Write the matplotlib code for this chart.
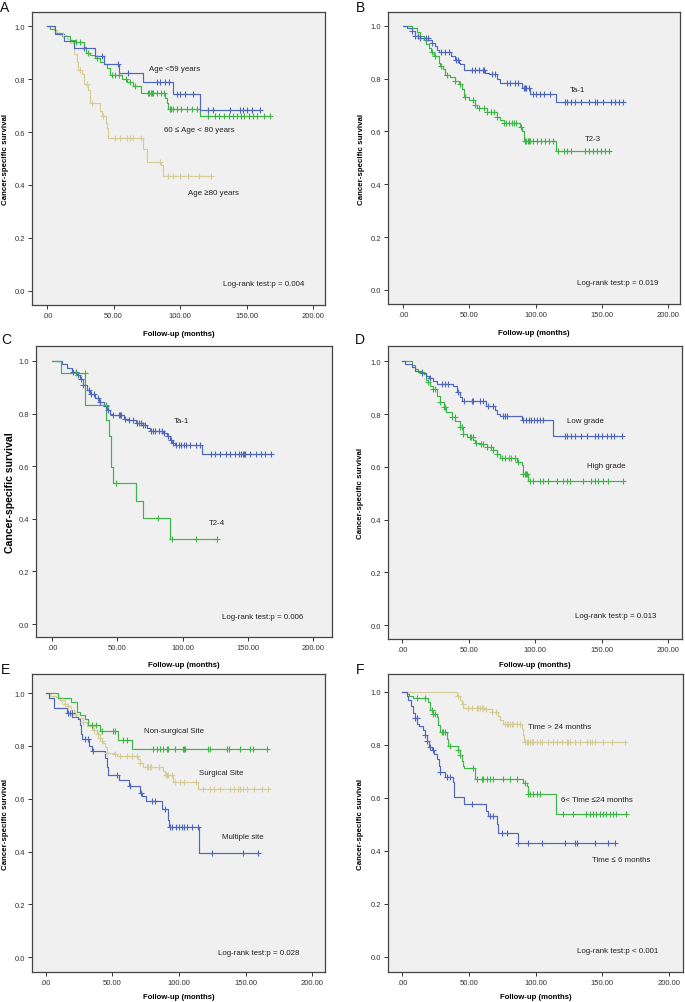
import numpy as np
import matplotlib
matplotlib.use("Agg")
import matplotlib.pyplot as plt

plt.rcParams['font.family'] = ['Liberation Sans', 'DejaVu Sans']

BLUE = '#4F68BC'
GREEN = '#3DB547'
TAN = '#D5CC97'

x_ticks = [0, 50, 100, 150, 200]
x_ticklabels = ['.00', '50.00', '100.00', '150.00', '200.00']
y_ticks = [0.0, 0.2, 0.4, 0.6, 0.8, 1.0]
y_ticklabels = ['0.0', '0.2', '0.4', '0.6', '0.8', '1.0']

# ---------------- Panel A ----------------
a1_t = [6, 12.5, 20, 36, 43, 54, 72, 95, 115]
a1_s = [0.97, 0.945, 0.916, 0.887, 0.857, 0.824, 0.790, 0.745, 0.684]
a1_c = [27.5, 41, 53, 61, 82.5, 85, 89, 92, 97.5, 100, 104, 110, 121, 125, 137.5, 145, 147.5, 150, 154, 160]
a2_t = [2.5, 6, 11, 17.5, 21, 27.5, 29, 32.5, 36, 40, 42.5, 45, 47.5, 56, 60, 65, 71, 89, 90, 91, 115]
a2_s = [0.99, 0.975, 0.962, 0.948, 0.94, 0.92, 0.90, 0.89, 0.88, 0.865, 0.855, 0.84, 0.815, 0.80, 0.79,
        0.772, 0.746, 0.73, 0.71, 0.686, 0.661]
a2_c = [22, 25, 31, 37.5, 49, 51, 54, 59.5, 62.5, 66, 76, 77, 78, 79, 80, 82.5, 86, 88, 92.5, 93.5, 94.5,
        97.5, 101, 105, 109, 112.5, 121, 126, 129, 133, 137, 140, 143, 145.5, 148, 152, 155, 158, 163, 167.5]
a3_t = [5, 7.5, 10, 15, 17.5, 20, 22.5, 23.5, 26, 27.5, 31, 32.5, 40, 41, 44, 45, 46, 72.5, 75, 86, 87]
a3_s = [0.985, 0.975, 0.966, 0.95, 0.935, 0.896, 0.865, 0.833, 0.82, 0.783, 0.76, 0.708, 0.68, 0.659,
        0.635, 0.615, 0.578, 0.535, 0.488, 0.475, 0.435]
a3_c = [12, 25, 30, 34, 42, 51, 55, 60, 62.5, 65, 71, 85, 91, 95, 100, 106, 114, 123]

# ---------------- Panel B ----------------
b1_t = [3, 7, 9, 13, 19, 22, 24, 25.5, 27, 36, 39, 42, 43, 46, 62, 64.5, 71, 73, 90, 96, 115]
b1_s = [0.99, 0.98, 0.962, 0.955, 0.945, 0.935, 0.925, 0.91, 0.899, 0.885, 0.87, 0.86, 0.855, 0.832,
        0.822, 0.817, 0.797, 0.784, 0.763, 0.743, 0.712]
b1_c = [7, 9, 11, 13, 17, 18.5, 22, 29, 31.5, 35, 40, 41.5, 52, 54, 57, 60, 61, 67, 69.5, 78.5, 81, 84.5,
        87, 91, 92, 93, 95, 98, 100, 103, 106, 111, 122, 124, 127, 130, 134, 140, 145, 146, 151, 157,
        160, 163, 166]
b2_t = [7, 10.5, 13, 15.5, 17.5, 19.5, 21, 23, 27, 28, 30.5, 32, 35.5, 39.5, 42, 44.5, 46, 49.5, 54,
        55.5, 63, 71, 73, 76, 88, 90, 91.5, 115.5]
b2_s = [0.99, 0.975, 0.96, 0.945, 0.93, 0.915, 0.90, 0.887, 0.86, 0.847, 0.835, 0.812, 0.805, 0.79, 0.78,
        0.76, 0.729, 0.72, 0.70, 0.687, 0.672, 0.655, 0.645, 0.631, 0.615, 0.60, 0.565, 0.527]
b2_c = [17, 22, 24.5, 28.5, 33.5, 39.5, 43, 47, 53, 54, 57, 61, 63.5, 66, 68.5, 71, 76, 78, 80, 82, 84,
        85, 89, 92, 93, 94, 95, 96, 98, 101, 104, 107, 110, 113, 117, 121, 124, 127, 137, 140, 143, 146,
        149, 152, 155]

# ---------------- Panel C ----------------
c1_t = [7.5, 11.5, 15, 19, 21.5, 24, 27, 29, 33, 36, 39.5, 42, 44.5, 46, 55, 58.5, 64, 70, 72.5, 75,
        85, 88, 90.5, 92, 94, 115]
c1_s = [0.99, 0.975, 0.96, 0.945, 0.93, 0.91, 0.89, 0.875, 0.86, 0.845, 0.83, 0.815, 0.80, 0.795, 0.78,
        0.775, 0.765, 0.755, 0.745, 0.734, 0.725, 0.715, 0.70, 0.69, 0.68, 0.645]
c1_c = [16, 18, 20, 22, 24, 28, 30, 32, 35, 37, 41, 43, 47, 51, 52, 53, 56, 59, 62, 65, 67, 68, 70, 71,
        76, 77, 79, 82, 84, 86, 89, 91, 93, 95, 97, 99, 101, 103, 106, 110, 113, 122, 125, 129, 133,
        136, 140, 143, 145, 146, 147, 148, 152, 156, 160, 163, 168]
c2_t = [7, 25.5, 41.5, 43.5, 45.3, 46.6, 64.5, 70, 90]
c2_s = [0.953, 0.833, 0.777, 0.714, 0.596, 0.536, 0.469, 0.402, 0.323]
c2_c = [18, 25, 41, 49, 81.5, 91.7, 110, 126.5]

# ---------------- Panel D ----------------
d1_t = [2, 7, 9.5, 14.5, 18, 20, 23, 26, 38, 41, 43, 44.5, 63, 70, 71.5, 73.5, 90, 113.5]
d1_s = [0.99, 0.98, 0.965, 0.955, 0.945, 0.935, 0.925, 0.915, 0.905, 0.885, 0.865, 0.848, 0.83, 0.815,
        0.80, 0.791, 0.779, 0.716]
d1_c = [14.5, 21, 29.5, 32, 34.6, 42, 46, 52, 53, 58.4, 60.4, 64.7, 68.4, 76, 77, 78.5, 91, 93, 95, 97,
        99, 101, 103.5, 106, 122, 124, 127, 130, 134, 139, 145, 147, 150, 154, 157, 159, 165]
d2_t = [7, 9.5, 12, 16, 18, 19.5, 21, 23, 26, 28.3, 31, 33, 37, 39.6, 43.4, 45.4, 48.4, 53.4, 54.6, 58.4,
        63.4, 68.4, 71, 73.4, 86, 89.7, 91, 94.7]
d2_s = [0.985, 0.97, 0.96, 0.95, 0.93, 0.92, 0.905, 0.895, 0.87, 0.845, 0.825, 0.807, 0.79, 0.775, 0.75,
        0.725, 0.714, 0.70, 0.69, 0.685, 0.675, 0.665, 0.65, 0.633, 0.62, 0.605, 0.571, 0.545]
d2_c = [14.5, 19.5, 23, 24.5, 28.5, 31, 32, 37, 39.5, 43.5, 44.5, 45.5, 50.5, 51.5, 53, 55.5, 59.5, 61,
        63.5, 67, 68.5, 71, 75, 77.5, 80, 82, 84.5, 87, 91, 92, 93, 94, 96, 98.5, 103.5, 106, 109.5, 116,
        121, 123.5, 126, 136, 142, 144.5, 147, 151, 155, 166]

# ---------------- Panel E ----------------
e1_t = [9, 19, 23.3, 25.8, 29.5, 32, 40.8, 54.5, 65]
e1_s = [0.98, 0.965, 0.93, 0.915, 0.90, 0.879, 0.856, 0.823, 0.787]
e1_c = [34.5, 38, 42, 50.8, 52, 58, 60.8, 80.8, 83.3, 85.8, 88.3, 90.8, 91.5, 97, 103, 103.5, 104.5,
        122, 123, 135.8, 137.8, 145.8, 153, 155.8, 165.8]
e2_t = [3, 8, 11, 14.5, 17, 19, 21, 23, 24.5, 28, 31, 35.8, 38.3, 40.8, 42, 43, 44.5, 45.8, 52, 53.3,
        69.5, 70.8, 72.8, 88.3, 89.5, 95.3, 114.5]
e2_s = [0.99, 0.985, 0.975, 0.96, 0.95, 0.935, 0.92, 0.91, 0.905, 0.89, 0.875, 0.86, 0.845, 0.829, 0.82,
        0.81, 0.795, 0.774, 0.77, 0.763, 0.75, 0.735, 0.721, 0.705, 0.691, 0.664, 0.637]
e2_c = [12, 14.5, 17, 22, 28, 34.5, 36, 39.5, 41, 42, 46, 52, 56, 61, 64.5, 68.5, 71, 76, 77, 78, 79, 85,
        90, 91, 92, 94.5, 97, 100.5, 104, 113, 118, 123, 126, 131, 138, 141, 144.5, 146, 148, 151, 156,
        162, 167]
e3_t = [2.8, 6.5, 15.8, 20, 24, 25.8, 26.5, 27.5, 32.8, 34.8, 44.5, 45.8, 47, 55.3, 62.8, 70.8, 72, 75,
        87, 91.5, 92.8, 115.3]
e3_s = [0.98, 0.944, 0.925, 0.91, 0.90, 0.88, 0.845, 0.826, 0.80, 0.78, 0.755, 0.72, 0.69, 0.672, 0.647,
        0.62, 0.61, 0.59, 0.561, 0.52, 0.493, 0.395]
e3_c = [17, 18.3, 19.5, 29.5, 32, 35.8, 53.3, 63.5, 71.5, 79.5, 82, 89.5, 93.3, 95, 97.5, 100, 102, 104,
        106, 110, 114, 124.5, 147.8, 159.5]

# ---------------- Panel F ----------------
f1_t = [40.8, 43.3, 44.5, 45.8, 60.8, 67, 72, 73.3, 75.3, 89.5, 90.3, 91.3]
f1_s = [0.985, 0.97, 0.955, 0.94, 0.935, 0.925, 0.91, 0.895, 0.88, 0.86, 0.835, 0.811]
f1_c = [42, 45.5, 49.5, 52, 55.8, 57, 58.3, 59.5, 60.5, 63, 67, 70.5, 77, 78.3, 79.5, 80.8, 82, 83.3,
        85.8, 88.3, 92, 93.3, 94.5, 95.8, 97, 98.3, 100.8, 103.3, 104.5, 109.5, 113.3, 115.8, 119.5,
        123.3, 124.5, 125.8, 129.5, 133.3, 138.3, 140.8, 142, 144.5, 150.8, 157, 167]
f2_t = [3.8, 5.3, 8.3, 19.5, 20.8, 22.8, 25.8, 27, 28.3, 33.3, 34.5, 42, 43.3, 44.5, 45.8, 46.3, 54.5,
        90.8, 93.3, 94.5, 115.3]
f2_s = [0.99, 0.985, 0.975, 0.96, 0.93, 0.915, 0.905, 0.875, 0.847, 0.82, 0.794, 0.78, 0.76, 0.74, 0.72,
        0.711, 0.67, 0.655, 0.645, 0.614, 0.537]
f2_c = [10.8, 17, 22, 23.3, 24.5, 29.5, 30.8, 32, 35.8, 42, 43.3, 53.3, 55.8, 59.5, 60.8, 63.3, 65.8,
        68.3, 75.8, 80.8, 85.8, 92, 94.5, 95.8, 98.3, 100.8, 103.3, 120.3, 127.8, 138, 140.5, 143, 145.5,
        148, 150.5, 153, 155.5, 158, 160.5, 168]
f3_t = [3.3, 4.5, 6.5, 7.8, 9.5, 11.3, 12.8, 15.3, 17, 18.3, 20.3, 22, 24, 25.8, 27.5, 28.3, 32, 38.3,
        38.8, 46.3, 62.5, 64, 70.8, 71.5, 86.5]
f3_s = [0.985, 0.97, 0.945, 0.92, 0.90, 0.88, 0.87, 0.855, 0.835, 0.815, 0.79, 0.78, 0.765, 0.745, 0.72,
        0.698, 0.679, 0.66, 0.601, 0.576, 0.55, 0.532, 0.50, 0.467, 0.428]
f3_c = [9.5, 10.8, 17, 18.3, 20.8, 23.3, 28.3, 33.3, 35.8, 52, 65.8, 68.3, 74.5, 78.3, 87, 94.5, 104.5,
        122, 129.5, 130.8, 144.5, 154.5, 159.5]

W, H = 685, 1003
fig = plt.figure(figsize=(W / 100, H / 100), dpi=100)


def add_axes(l, r, t, b):
    return fig.add_axes([l / W, 1 - b / H, (r - l) / W, (b - t) / H])


def km(ax, t, s, c, color):
    t = np.asarray(t, float)
    s = np.asarray(s, float)
    c = np.asarray(c, float)
    end = max(t.max(), c.max())
    xs = np.concatenate([[0], t, [end]])
    full = np.concatenate([[1.0], s])
    ys = np.concatenate([full, [s[-1]]])
    ax.step(xs, ys, where='post', color=color, lw=0.85, zorder=3)
    cy = full[np.searchsorted(t, c, side='right')]
    ax.plot(c, cy, ls='none', marker='+', ms=4.2, mew=0.8, color=color, zorder=4)


def style(ax, xlim, ylim, xlab_y, ylab_x=-0.080, ylab_size=5.7):
    ax.set_facecolor('#F0F0F0')
    ax.set_xlim(*xlim)
    ax.set_ylim(*ylim)
    ax.set_xticks(x_ticks)
    ax.set_xticklabels(x_ticklabels)
    ax.set_yticks(y_ticks)
    ax.set_yticklabels(y_ticklabels)
    ax.tick_params(direction='out', length=3, width=0.7, labelsize=5.5, pad=2, colors='#333333')
    for sp in ax.spines.values():
        sp.set_color('#444444')
        sp.set_linewidth(0.9)
    ax.set_xlabel('Follow-up (months)', fontsize=5.6, fontweight='bold')
    ax.set_ylabel('Cancer-specific survival', fontsize=ylab_size, fontweight='bold')
    ax.xaxis.set_label_coords(0.5, xlab_y)
    ax.yaxis.set_label_coords(ylab_x, 0.5)


def txt(ax, x, y, s):
    ax.text(x, y, s, fontsize=5.7, ha='left', va='center', color='#222222')


# Panel A
axA = add_axes(32, 325, 13, 306)
km(axA, a3_t, a3_s, a3_c, TAN)
km(axA, a2_t, a2_s, a2_c, GREEN)
km(axA, a1_t, a1_s, a1_c, BLUE)
style(axA, (-11.3, 209), (-0.053, 1.053), -0.084)
txt(axA, 77, 0.84, 'Age <59 years')
txt(axA, 88, 0.608, '60 \u2264 Age < 80 years')
txt(axA, 106, 0.373, 'Age \u226580 years')
txt(axA, 132, 0.028, 'Log-rank test:p = 0.004')

# Panel B
axB = add_axes(388, 680, 13, 305)
km(axB, b2_t, b2_s, b2_c, GREEN)
km(axB, b1_t, b1_s, b1_c, BLUE)
style(axB, (-11.3, 208.8), (-0.053, 1.052), -0.084)
txt(axB, 126, 0.76, 'Ta-1')
txt(axB, 137, 0.574, 'T2-3')
txt(axB, 131.5, 0.029, 'Log-rank test:p = 0.019')

# Panel C
axC = add_axes(36, 332, 347, 638)
km(axC, c1_t, c1_s, c1_c, BLUE)
km(axC, c2_t, c2_s, c2_c, GREEN)
style(axC, (-12.3, 214.5), (-0.049, 1.057), -0.082, ylab_x=-0.071, ylab_size=7.6)
txt(axC, 93.5, 0.773, 'Ta-1')
txt(axC, 120, 0.387, 'T2-4')
txt(axC, 130, 0.029, 'Log-rank test:p = 0.006')

# Panel D
axD = add_axes(388, 682, 347, 640)
km(axD, d2_t, d2_s, d2_c, GREEN)
km(axD, d1_t, d1_s, d1_c, BLUE)
style(axD, (-10.8, 210.3), (-0.053, 1.058), -0.075)
txt(axD, 123.6, 0.777, 'Low grade')
txt(axD, 138.6, 0.604, 'High grade')
txt(axD, 130, 0.035, 'Log-rank test:p = 0.013')

# Panel E
axE = add_axes(32, 325, 675, 973)
km(axE, e2_t, e2_s, e2_c, TAN)
km(axE, e1_t, e1_s, e1_c, GREEN)
km(axE, e3_t, e3_s, e3_c, BLUE)
style(axE, (-10.3, 209.5), (-0.056, 1.072), -0.070)
txt(axE, 73.8, 0.86, 'Non-surgical Site')
txt(axE, 114.8, 0.70, 'Surgical Site')
txt(axE, 132, 0.457, 'Multiple site')
txt(axE, 129, 0.019, 'Log-rank test:p = 0.028')

# Panel F
axF = add_axes(388, 683, 675, 973)
km(axF, f1_t, f1_s, f1_c, TAN)
km(axF, f2_t, f2_s, f2_c, GREEN)
km(axF, f3_t, f3_s, f3_c, BLUE)
style(axF, (-10.7, 210.5), (-0.058, 1.067), -0.070)
txt(axF, 94, 0.869, 'Time > 24 months')
txt(axF, 119, 0.595, '6< Time \u226424 months')
txt(axF, 142, 0.366, 'Time \u2264 6 months')
txt(axF, 131, 0.025, 'Log-rank test:p < 0.001')

# Panel letters
for lab, x, y in [('A', 0, 1), ('B', 356, 1), ('C', 1, 333), ('D', 355, 333), ('E', 1, 663), ('F', 356, 663)]:
    fig.text(x / W, 1 - y / H, lab, fontsize=10, ha='left', va='top', color='#111111')

fig.savefig('out.png', dpi=100)
